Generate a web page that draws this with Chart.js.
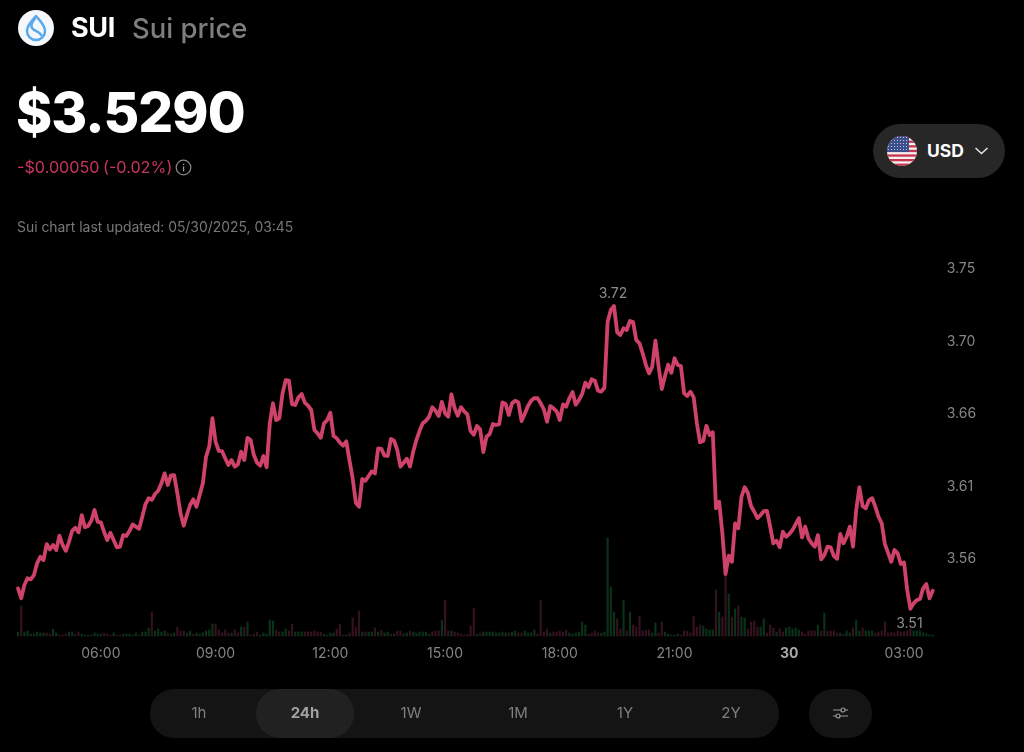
<!DOCTYPE html>
<html lang="en">
<head>
<meta charset="utf-8">
<title>Sui price</title>
<script src="https://cdn.jsdelivr.net/npm/chart.js@4/dist/chart.umd.min.js"></script>
<style>
  html, body { margin: 0; padding: 0; background: #000; }
  body { width: 1024px; height: 752px; position: relative; overflow: hidden; font-family: Inter, sans-serif; }
  #chartBox { position: absolute; left: 0; top: 0; width: 1024px; height: 752px; }
  .abs { position: absolute; white-space: nowrap; }
  #symbol { left: 71px; top: 12px; font-size: 27px; line-height: 32px; font-weight: 700; color: #fff; letter-spacing: -0.4px; }
  #name { left: 132px; top: 12px; font-size: 27.5px; line-height: 32px; font-weight: 500; color: #7e7e7e; }
  #price { left: 16px; top: 78px; font-size: 54.8px; line-height: 68px; font-weight: 800; color: #fff; letter-spacing: -0.9px; }
  .change { top: 157px; font-size: 16.2px; line-height: 20px; color: #c9345c; }
  #updated { left: 17px; top: 218px; font-size: 13.9px; line-height: 18px; color: #787878; }
  #currency { left: 873px; top: 124px; width: 132px; height: 54px; border-radius: 27px; background: #272727; }
  #currencyText { left: 927px; top: 139px; font-size: 17.5px; line-height: 24px; font-weight: 700; color: #fff; }
  #ranges { left: 150px; top: 689px; width: 629px; height: 49px; border-radius: 24px; background: #141414; }
  #active { left: 256px; top: 689px; width: 98px; height: 49px; border-radius: 24px; background: #212121; }
  #settings { left: 809px; top: 689px; width: 63px; height: 49px; border-radius: 24px; background: #141414; }
  .range { top: 703px; width: 60px; margin-left: -30px; text-align: center; font-size: 15px; line-height: 20px; color: #7f7f7f; }
  .range.on { font-weight: 700; color: #a2a2a2; }
</style>
</head>
<body>
<div id="chartBox"><canvas id="priceChart"></canvas></div>

<svg class="abs" style="left:18px;top:10px" width="36" height="36" viewBox="0 0 36 36">
  <circle cx="18" cy="18" r="18" fill="#f4f7fb"/>
  <path d="M18 6 C22 11 27 15 27 21 A9 9 0 0 1 9 21 C9 15 14 11 18 6 Z" fill="none" stroke="#5aa9ea" stroke-width="2.5" stroke-linejoin="round"/>
  <path d="M17.5 8 C13 13 12 17 15.5 19.5 C19 22 22.5 22 23.5 26" fill="none" stroke="#5aa9ea" stroke-width="2.5"/>
</svg>
<div class="abs" id="symbol">SUI</div>
<div class="abs" id="name">Sui price</div>
<div class="abs" id="price">$3.5290</div>
<div class="abs change" style="left:17px">-$0.00050</div>
<div class="abs change" style="left:103px">(-0.02%)</div>
<svg class="abs" style="left:175px;top:159px" width="17" height="17" viewBox="0 0 17 17">
  <circle cx="8.5" cy="8.5" r="7.3" fill="none" stroke="#8a8a8a" stroke-width="1.2"/>
  <rect x="7.9" y="7.4" width="1.3" height="5" fill="#9a9a9a"/>
  <rect x="7.9" y="4.7" width="1.3" height="1.4" fill="#9a9a9a"/>
</svg>
<div class="abs" id="updated">Sui chart last updated: 05/30/2025, 03:45</div>

<div class="abs" id="currency"></div>
<svg class="abs" style="left:887px;top:136px" width="30" height="30" viewBox="0 0 30 30">
  <defs>
    <clipPath id="flagClip"><circle cx="15" cy="15" r="15"/></clipPath>
    <pattern id="stars" width="3" height="3" patternUnits="userSpaceOnUse"><circle cx="1.5" cy="1.5" r="0.55" fill="#d8ddec"/></pattern>
  </defs>
  <g clip-path="url(#flagClip)">
    <rect width="30" height="30" fill="#f2f2f2"/>
    <rect y="0" width="30" height="2.4" fill="#c8334d"/>
    <rect y="4.6" width="30" height="2.3" fill="#c8334d"/>
    <rect y="9.2" width="30" height="2.3" fill="#c8334d"/>
    <rect y="13.8" width="30" height="2.3" fill="#c8334d"/>
    <rect y="18.4" width="30" height="2.3" fill="#c8334d"/>
    <rect y="23" width="30" height="2.3" fill="#c8334d"/>
    <rect y="27.6" width="30" height="2.4" fill="#c8334d"/>
    <rect width="22" height="16" fill="#3a4f8c"/>
    <rect width="22" height="16" fill="url(#stars)"/>
  </g>
</svg>
<div class="abs" id="currencyText">USD</div>
<svg class="abs" style="left:974px;top:146px" width="15" height="10" viewBox="0 0 15 10">
  <path d="M1.5 2 L7.5 7.5 L13.5 2" fill="none" stroke="#e6e6e6" stroke-width="1.5"/>
</svg>

<div class="abs" id="ranges"></div>
<div class="abs" id="active"></div>
<div class="abs range" style="left:199px">1h</div>
<div class="abs range on" style="left:305px">24h</div>
<div class="abs range" style="left:411px">1W</div>
<div class="abs range" style="left:518px">1M</div>
<div class="abs range" style="left:625px">1Y</div>
<div class="abs range" style="left:731px">2Y</div>
<div class="abs" id="settings"></div>
<svg class="abs" style="left:832px;top:705px" width="17" height="16" viewBox="0 0 17 16">
  <path d="M1 5 H9 M13 5 H16 M1 11 H4 M8 11 H16" stroke="#9a9a9a" stroke-width="1.2" fill="none"/>
  <circle cx="11" cy="5" r="2" fill="none" stroke="#9a9a9a" stroke-width="1.2"/>
  <circle cx="6" cy="11" r="2" fill="none" stroke="#9a9a9a" stroke-width="1.2"/>
</svg>

<script>
// 5 minute samples, first one at 03:50
const prices = [
  3.5402, 3.5337, 3.5424, 3.5468, 3.5461, 3.5489, 3.5566, 3.5609, 3.5587, 3.5692,
  3.5657, 3.5686, 3.5653, 3.5747, 3.5686, 3.5648, 3.5707, 3.5779, 3.5799, 3.5769,
  3.5882, 3.5802, 3.5810, 3.5845, 3.5915, 3.5838, 3.5834, 3.5773, 3.5718, 3.5766,
  3.5718, 3.5671, 3.5675, 3.5751, 3.5745, 3.5779, 3.5821, 3.5806, 3.5792, 3.5871,
  3.5954, 3.5993, 3.5982, 3.6020, 3.6041, 3.6090, 3.6155, 3.6079, 3.6142, 3.6144,
  3.6024, 3.5893, 3.5812, 3.5882, 3.5948, 3.5985, 3.5937, 3.6013, 3.6090, 3.6264,
  3.6330, 3.6516, 3.6362, 3.6303, 3.6301, 3.6254, 3.6210, 3.6242, 3.6199, 3.6214,
  3.6297, 3.6242, 3.6388, 3.6373, 3.6275, 3.6225, 3.6205, 3.6269, 3.6195, 3.6483,
  3.6614, 3.6504, 3.6516, 3.6679, 3.6766, 3.6762, 3.6607, 3.6603, 3.6653, 3.6675,
  3.6618, 3.6598, 3.6570, 3.6439, 3.6417, 3.6388, 3.6483, 3.6504, 3.6552, 3.6400,
  3.6385, 3.6356, 3.6336, 3.6365, 3.6242, 3.6123, 3.5963, 3.5937, 3.6118, 3.6107,
  3.6138, 3.6168, 3.6155, 3.6319, 3.6316, 3.6271, 3.6269, 3.6380, 3.6369, 3.6308,
  3.6199, 3.6225, 3.6251, 3.6199, 3.6297, 3.6373, 3.6434, 3.6483, 3.6500, 3.6526,
  3.6588, 3.6565, 3.6531, 3.6624, 3.6548, 3.6526, 3.6673, 3.6581, 3.6533, 3.6588,
  3.6561, 3.6542, 3.6432, 3.6408, 3.6465, 3.6443, 3.6295, 3.6395, 3.6413, 3.6478,
  3.6472, 3.6478, 3.6620, 3.6609, 3.6537, 3.6614, 3.6631, 3.6620, 3.6498, 3.6544,
  3.6596, 3.6631, 3.6648, 3.6647, 3.6614, 3.6574, 3.6493, 3.6596, 3.6581, 3.6561,
  3.6504, 3.6607, 3.6592, 3.6647, 3.6688, 3.6605, 3.6635, 3.6675, 3.6749, 3.6719,
  3.6771, 3.6762, 3.6696, 3.6690, 3.6716, 3.7148, 3.7225, 3.7251, 3.7079, 3.7061,
  3.7105, 3.7094, 3.7153, 3.7146, 3.7028, 3.7007, 3.6941, 3.6865, 3.6810, 3.6854,
  3.7024, 3.6854, 3.6707, 3.6793, 3.6867, 3.6814, 3.6909, 3.6865, 3.6858, 3.6679,
  3.6662, 3.6690, 3.6653, 3.6483, 3.6358, 3.6367, 3.6467, 3.6406, 3.6424, 3.5926,
  3.5969, 3.5762, 3.5496, 3.5616, 3.5576, 3.5828, 3.5795, 3.6002, 3.6064, 3.6028,
  3.5941, 3.5904, 3.5861, 3.5882, 3.5908, 3.5910, 3.5806, 3.5697, 3.5714, 3.5671,
  3.5773, 3.5740, 3.5758, 3.5784, 3.5823, 3.5861, 3.5736, 3.5806, 3.5730, 3.5697,
  3.5675, 3.5751, 3.5592, 3.5620, 3.5675, 3.5671, 3.5614, 3.5596, 3.5758, 3.5697,
  3.5740, 3.5806, 3.5675, 3.5915, 3.6064, 3.5941, 3.5926, 3.5980, 3.5992, 3.5937,
  3.5871, 3.5828, 3.5692, 3.5635, 3.5576, 3.5653, 3.5631, 3.5561, 3.5572, 3.5391,
  3.5268, 3.5304, 3.5325, 3.5332, 3.5402, 3.5430, 3.5337, 3.5386,
];

// relative volume, biggest candle = 98
const volumes = [
  4, 30, 4, 5, 2, 2, 4, 3, 3, 3,
  2, 7, 3, 1, 1, 2, 4, 4, 2, 4,
  2, 1, 1, 1, 3, 2, 2, 3, 2, 1,
  3, 1, 1, 2, 2, 2, 1, 3, 1, 4,
  4, 8, 24, 5, 7, 4, 5, 3, 2, 3,
  9, 5, 5, 3, 5, 2, 3, 2, 3, 5,
  6, 12, 12, 6, 3, 6, 3, 3, 6, 3,
  9, 9, 14, 1, 2, 4, 1, 3, 2, 16,
  15, 6, 4, 4, 7, 5, 12, 4, 4, 4,
  4, 4, 4, 5, 4, 4, 2, 1, 3, 3,
  7, 12, 1, 1, 3, 18, 9, 25, 4, 4,
  4, 4, 8, 4, 6, 3, 4, 2, 2, 5,
  5, 2, 3, 5, 4, 3, 4, 4, 4, 2,
  4, 5, 5, 16, 36, 5, 5, 4, 3, 2,
  1, 2, 10, 28, 2, 3, 4, 4, 4, 4,
  3, 3, 4, 3, 3, 4, 5, 3, 3, 5,
  3, 3, 6, 2, 36, 4, 7, 3, 4, 4,
  5, 4, 6, 3, 2, 3, 4, 14, 11, 2,
  3, 5, 3, 3, 4, 98, 49, 24, 17, 7,
  36, 5, 24, 11, 9, 20, 5, 6, 6, 3,
  13, 3, 14, 4, 2, 1, 1, 2, 1, 5,
  5, 3, 20, 9, 11, 10, 7, 6, 6, 46,
  24, 19, 60, 42, 19, 27, 30, 19, 18, 7,
  14, 15, 9, 9, 17, 3, 11, 8, 4, 7,
  4, 8, 9, 7, 8, 6, 4, 2, 5, 5,
  5, 11, 5, 23, 5, 5, 5, 3, 3, 2,
  5, 3, 8, 16, 5, 8, 5, 5, 5, 3,
  4, 5, 14, 3, 4, 3, 5, 4, 4, 5,
  7, 5, 5, 5, 3, 2, 1, 1,
];

// g = up candle, r = down candle, ten per chunk like the rows above
const volumeSides = [
  'grgggggggr', 'rggrrrggrr', 'gggrgggrrr', 'grrgggggrg', 'ggrggggrgg',
  'rrrggrgggg', 'ggrrrrrgrr', 'grgrrrgggg', 'grrggrrggg', 'rrrrrrgggg',
  'rrrgrrrrgr', 'ggrgrggrgr', 'rggrgggggg', 'rrrgrrgrrr', 'rrrrgrgggg',
  'ggggrggrrg', 'gggrrrrgrr', 'rrrggggggr', 'rrrgggggrr', 'grgrrrrrrg',
  'grrgggggrr', 'rrrrrggggr', 'grrgrgrggr', 'rrrggrrrgr', 'rgggggrrrr',
  'rgrgrrrrgr', 'ggrggrgggr', 'rrrrrrrrrr', 'rggggggg',
].join('').split('');

const priceTicks = [3.56, 3.6075, 3.655, 3.7025, 3.75];
const priceTickLabels = ['3.56', '3.61', '3.66', '3.70', '3.75'];
const timeTicks = ['06:00', '09:00', '12:00', '15:00', '18:00', '21:00', '00:00', '03:00'];
const timeTickLabels = ['06:00', '09:00', '12:00', '15:00', '18:00', '21:00', '30', '03:00'];

const highLow = [
  { index: 187, text: '3.72', dy: -12 },
  { index: 280, text: '3.51', dy: 15 },
];

const times = prices.map((_, i) => {
  const mins = (3 * 60 + 50 + i * 5) % 1440;
  return String(Math.floor(mins / 60)).padStart(2, '0') + ':' + String(mins % 60).padStart(2, '0');
});

const FONT = 'Inter, sans-serif';
const GREY = '#858585';

const isDayTick = i => timeTickLabels[timeTicks.indexOf(times[i])] === '30';

// writes the high and low of the day next to the line
const highLowPlugin = {
  id: 'highLow',
  afterDatasetsDraw(chart) {
    const { ctx, scales } = chart;
    ctx.save();
    ctx.font = '14px ' + FONT;
    ctx.fillStyle = '#8c8c8c';
    ctx.textAlign = 'center';
    ctx.textBaseline = 'middle';
    highLow.forEach(m => {
      ctx.fillText(m.text, scales.x.getPixelForValue(m.index) - 1, scales.y.getPixelForValue(prices[m.index]) + m.dy);
    });
    ctx.restore();
  },
};

new Chart(document.getElementById('priceChart'), {
  type: 'bar',
  plugins: [highLowPlugin],
  data: {
    labels: times,
    datasets: [
      {
        type: 'line',
        data: prices,
        yAxisID: 'y',
        order: 1,
        borderColor: '#cf4269',
        borderWidth: 3.8,
        borderJoinStyle: 'round',
        borderCapStyle: 'round',
        pointRadius: 0,
        tension: 0,
        clip: false,
      },
      {
        data: volumes,
        yAxisID: 'volume',
        order: 2,
        backgroundColor: volumeSides.map(s => (s === 'g' ? '#0b3219' : '#35121f')),
        barThickness: 1.5,
        clip: false,
      },
    ],
  },
  options: {
    responsive: true,
    maintainAspectRatio: false,
    animation: false,
    events: [],
    layout: { padding: { left: 18, top: 268, right: 0, bottom: 0 } },
    plugins: { legend: { display: false }, tooltip: { enabled: false } },
    scales: {
      x: {
        offset: false,
        afterFit: s => { s.height = 116; },
        grid: { display: false, offset: false, drawTicks: false },
        border: { display: false },
        ticks: {
          autoSkip: false,
          maxRotation: 0,
          padding: 9,
          color: ctx => (isDayTick(ctx.index) ? '#a8a8a8' : GREY),
          font: ctx => ({ family: FONT, size: 14, weight: isDayTick(ctx.index) ? 'bold' : 'normal' }),
          callback(val) {
            const at = timeTicks.indexOf(this.getLabelForValue(val));
            return at < 0 ? '' : timeTickLabels[at];
          },
        },
      },
      y: {
        position: 'right',
        min: 3.509,
        max: 3.75,
        afterFit: s => { s.width = 91.3; },
        afterBuildTicks: s => { s.ticks = priceTicks.map(value => ({ value })); },
        grid: { display: false, drawTicks: false },
        border: { display: false },
        ticks: {
          padding: 14,
          labelOffset: 1,
          color: GREY,
          font: { family: FONT, size: 14 },
          callback: (v, i) => priceTickLabels[i],
        },
      },
      volume: {
        display: false,
        min: 0,
        max: 368,
      },
    },
  },
});
</script>
</body>
</html>
